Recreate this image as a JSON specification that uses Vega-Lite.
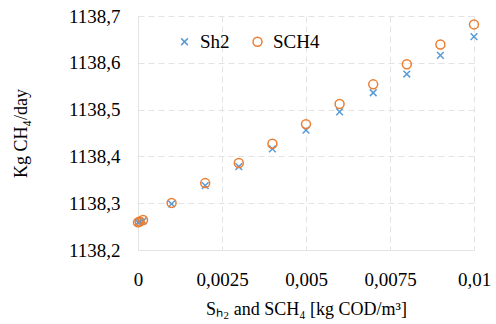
{
  "$schema": "https://vega.github.io/schema/vega-lite/v6.json",
  "width": 336,
  "height": 234,
  "autosize": {"type": "none"},
  "padding": {"left": 138, "top": 16, "right": 22, "bottom": 74},
  "background": "white",
  "config": {
    "view": {"stroke": null},
    "font": "Liberation Serif",
    "legend": {"labelFont": "Liberation Serif"},
    "axis": {"labelFont": "Liberation Serif", "titleFont": "Liberation Serif", "labelColor": "#000", "titleColor": "#000", "labelFontSize": 19, "titleFontSize": 18, "titleFontWeight": "normal", "ticks": false, "domainColor": "#E3E3E3", "gridColor": "#E3E3E3", "gridDash": [6, 4], "gridWidth": 1}
  },
  "data": {"values": [
    {"s": 0, "v": 1138.259, "series": "Sh2"},
    {"s": 0.00005, "v": 1138.260, "series": "Sh2"},
    {"s": 0.00015, "v": 1138.262, "series": "Sh2"},
    {"s": 0.001, "v": 1138.2985, "series": "Sh2"},
    {"s": 0.002, "v": 1138.3375, "series": "Sh2"},
    {"s": 0.003, "v": 1138.378, "series": "Sh2"},
    {"s": 0.004, "v": 1138.416, "series": "Sh2"},
    {"s": 0.005, "v": 1138.456, "series": "Sh2"},
    {"s": 0.006, "v": 1138.495, "series": "Sh2"},
    {"s": 0.007, "v": 1138.536, "series": "Sh2"},
    {"s": 0.008, "v": 1138.576, "series": "Sh2"},
    {"s": 0.009, "v": 1138.616, "series": "Sh2"},
    {"s": 0.01, "v": 1138.656, "series": "Sh2"},
    {"s": 0, "v": 1138.259, "series": "SCH4"},
    {"s": 0.00005, "v": 1138.261, "series": "SCH4"},
    {"s": 0.00015, "v": 1138.264, "series": "SCH4"},
    {"s": 0.001, "v": 1138.3006, "series": "SCH4"},
    {"s": 0.002, "v": 1138.343, "series": "SCH4"},
    {"s": 0.003, "v": 1138.386, "series": "SCH4"},
    {"s": 0.004, "v": 1138.427, "series": "SCH4"},
    {"s": 0.005, "v": 1138.469, "series": "SCH4"},
    {"s": 0.006, "v": 1138.512, "series": "SCH4"},
    {"s": 0.007, "v": 1138.554, "series": "SCH4"},
    {"s": 0.008, "v": 1138.597, "series": "SCH4"},
    {"s": 0.009, "v": 1138.639, "series": "SCH4"},
    {"s": 0.01, "v": 1138.682, "series": "SCH4"}
  ]},
  "mark": {"type": "point", "filled": false, "strokeWidth": 1.5, "size": 80, "opacity": 1},
  "encoding": {
    "x": {"field": "s", "type": "quantitative",
      "scale": {"domain": [0, 0.01], "nice": false, "zero": false},
      "axis": {"values": [0, 0.0025, 0.005, 0.0075, 0.01], "labelExpr": "replace(format(datum.value, '~g'), '.', ',')", "labelPadding": 20, "titlePadding": 11, "labelFlush": false},
      "title": "Sₕ₂ and SCH₄  [kg COD/m³]"},
    "y": {"field": "v", "type": "quantitative",
      "scale": {"domain": [1138.2, 1138.7], "nice": false, "zero": false},
      "axis": {"values": [1138.2, 1138.3, 1138.4, 1138.5, 1138.6, 1138.7], "labelExpr": "replace(format(datum.value, '.1f'), '.', ',')", "labelPadding": 18, "titlePadding": 38},
      "title": "Kg CH₄/day"},
    "color": {"field": "series", "type": "nominal",
      "scale": {"domain": ["Sh2", "SCH4"], "range": ["#5B9BD5", "#ED7D31"]},
      "legend": {"orient": "none", "legendX": 37, "legendY": 16, "direction": "horizontal", "title": null, "labelFontSize": 19, "labelColor": "#000", "symbolSize": 80, "symbolStrokeWidth": 1.5, "columnPadding": 18, "labelOffset": 6}},
    "shape": {"field": "series", "type": "nominal",
      "scale": {"domain": ["Sh2", "SCH4"], "range": ["M-0.75,-0.75L0.75,0.75M-0.75,0.75L0.75,-0.75", "circle"]}}
  }
}
